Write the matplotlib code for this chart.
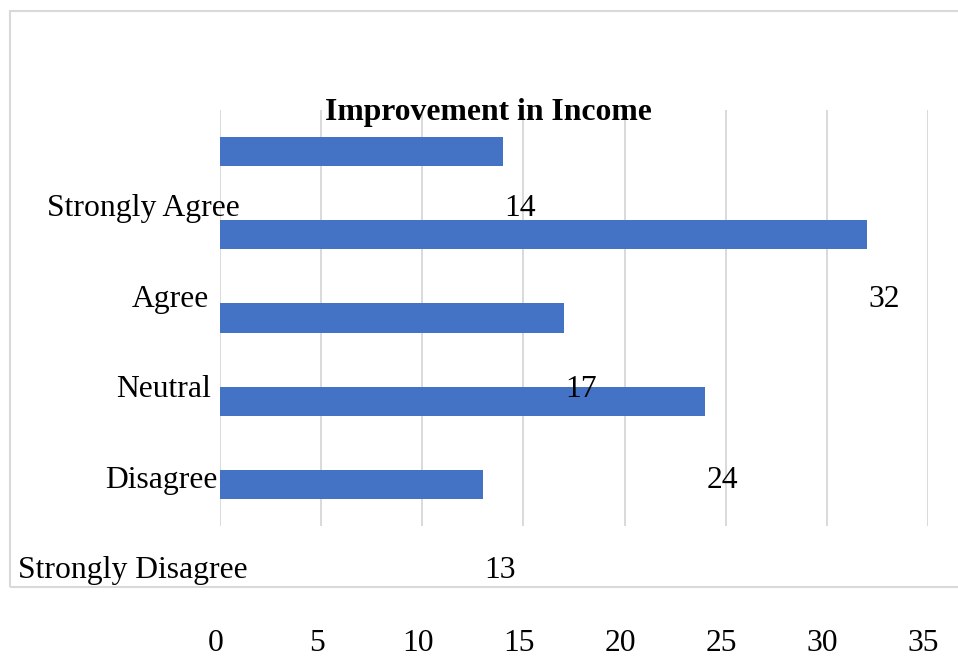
import matplotlib
matplotlib.use('Agg')
from matplotlib import pyplot as plt
from matplotlib.patches import Rectangle
from matplotlib.transforms import ScaledTranslation

categories = ['Strongly Agree', 'Agree', 'Neutral', 'Disagree', 'Strongly Disagree']
values = [14, 32, 17, 24, 13]
x_ticks = [0, 5, 10, 15, 20, 25, 30, 35]

# text offsets (pixels) of the misplaced category labels, right edge vs. x=0
label_dx = [20, -11, -9, -3, 28]

W, H = 958, 661
FS = 22.8
plt.rcParams['font.family'] = ['Liberation Serif', 'DejaVu Serif']

fig = plt.figure(figsize=(W / 100, H / 100), dpi=100)

# light grey chart-area border
fig.patches.append(Rectangle((9.5 / W, 1 - 587 / H), 1.2, (587 - 11) / H,
                             transform=fig.transFigure, fill=False,
                             edgecolor='#d9d9d9', linewidth=1.5))

ax = fig.add_axes([220 / W, 1 - 526 / H, 708 / W, (526 - 110) / H])
ax.barh(range(len(values)), values, height=0.35, color='#4472C4', zorder=2)
ax.set_xlim(0, 35)
ax.set_ylim(len(values) - 0.5, -0.5)
ax.set_xticks(x_ticks)
ax.set_yticks([])
ax.grid(axis='x', color='#d9d9d9', linewidth=1.4, zorder=0)
for s in ax.spines.values():
    s.set_visible(False)
ax.tick_params(axis='x', length=0, pad=74, labelsize=FS)
for lbl in ax.get_xticklabels():
    lbl.set_transform(lbl.get_transform() + ScaledTranslation(-4.5 / 100, 0, fig.dpi_scale_trans))

# second, invisible axes holding the label rows (shifted down vs. the bars)
lab = fig.add_axes([220 / W, 1 - 623.8 / H, 708 / W, (623.8 - 170.7) / H])
lab.set_xlim(0, 35)
lab.set_ylim(len(values) - 0.5, -0.5)
lab.axis('off')
for i, (cat, val) in enumerate(zip(categories, values)):
    lab.annotate(cat, xy=(0, i), xytext=(label_dx[i], 0), textcoords='offset pixels',
                 ha='right', va='baseline', fontsize=FS, annotation_clip=False)
    lab.annotate(str(val), xy=(val, i), xytext=(17, 0), textcoords='offset pixels',
                 ha='center', va='baseline', fontsize=FS, annotation_clip=False)

fig.text(488.5 / W, 1 - 120 / H, 'Improvement in Income', ha='center', va='baseline',
         fontsize=FS, fontweight='bold')

plt.savefig('out.png', dpi=100)
